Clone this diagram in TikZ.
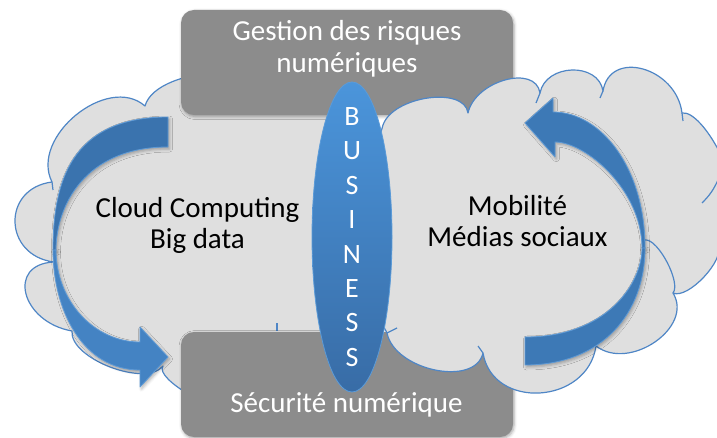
\documentclass[tikz,border=0pt]{standalone}
\usepackage{fontspec}
\setmainfont{Carlito}
\usetikzlibrary{calc,shapes.geometric,shadows.blur}
\definecolor{cloudfill}{HTML}{DFDFDF}
\definecolor{cloudline}{HTML}{4F86C6}
\definecolor{boxgray}{HTML}{8C8C8C}
\definecolor{arrowdark}{HTML}{3A73AE}
\definecolor{arrowlight}{HTML}{4483C3}
\definecolor{arrowmid}{HTML}{3D79B6}
\definecolor{arrowedge}{HTML}{5E9AD6}
\definecolor{bizTop}{HTML}{4B95DB}
\definecolor{bizBottom}{HTML}{386CA6}
\definecolor{bizEdge}{HTML}{5B9BD8}
\begin{document}
\begin{tikzpicture}[x=1pt,y=-1pt,
  % one rounded cloud lobe between two cusps, #1 = outermost point of the lobe
  bump/.style={to path={.. controls ($1.3333*(#1)+0.2533*(\tikztostart)-0.5867*(\tikztotarget)$) and ($1.3333*(#1)+0.2533*(\tikztotarget)-0.5867*(\tikztostart)$) .. (\tikztotarget)}},
  cloudshape/.style={fill=cloudfill, draw=cloudline, line width=1.2pt, line join=round},
  cloudmark/.style={draw=cloudline, line width=1.2pt},
  greybox/.style={fill=boxgray, rounded corners=13pt, minimum width=332pt, minimum height=105pt, inner sep=0pt,
    blur shadow={shadow xshift=1pt, shadow yshift=-1.5pt, shadow opacity=35, shadow blur radius=3pt}},
  boxtext/.style={text=white, align=center, font=\fontsize{29}{32}\selectfont},
  cloudtext/.style={text=black, align=center, font=\fontsize{29}{31.5}\selectfont},
  ribbon/.style={draw=arrowedge, line width=0.8pt, line join=round,
    blur shadow={shadow xshift=1.5pt, shadow yshift=-2pt, shadow opacity=30, shadow blur radius=3pt}}]

\useasboundingbox (0,0) rectangle (717,438);
\clip (0,0) rectangle (717,438);

% left cloud (lies under both grey boxes)
\path[cloudshape] (300,100) to[bump={222,72}] (145,106) to[bump={76,115}] (52,182)
  to[bump={15,222}] (54,262) to[bump={26,294}] (72,331) to[bump={110,367}] (163,366)
  to[bump={190,395}] (240,410) -- (330,410) -- (330,100) -- cycle;
\draw[cloudmark] (52,182) -- (53,190);
\draw[cloudmark] (277,323) -- (277,331);

% grey boxes
\node (risk) [greybox] at (347,62.5) {};
\node (risktxt) [boxtext] at (347,49) {Gestion des risques\\numériques};
\node (secu) [greybox] at (347,384.5) {};
\node (secutxt) [boxtext, anchor=base] at (346.5,412) {Sécurité numérique};

% right cloud (lies over both grey boxes)
\path[cloudshape] (383,125) to[bump={428,98}] (468,113) to[bump={505,80}] (540,93)
  to[bump={572,70}] (603,91) to[bump={643,69}] (682,113) to[bump={719,151}] (730,205)
  -- (740,225) -- (718,245) to[bump={704,277}] (673,293) to[bump={655,342}] (596,346)
  to[bump={540,393}] (483,353) to[bump={435,370}] (387,333) -- (370,300) -- (370,170) -- cycle;
\draw[cloudmark] (673,293) to[bump={667,262}] (645,240);
\draw[cloudmark] (682,113) -- (683,121);
\draw[cloudmark] (540,93) -- (536,103);
\draw[cloudmark] (603,91) -- (600,98);
\draw[cloudmark] (483,353) -- (478,346);
\draw[cloudmark] (387,333) -- (397,328);
\draw[cloudmark] (702,203) to[bend right=10] (718,180);

% left curved arrow: back part, then front part with the head
\path[ribbon, fill=arrowdark] (168,117) .. controls (70,117) and (53,183.5) .. (53,250)
  -- (56,250) .. controls (56,206.6) and (84.4,147) .. (168,147) -- cycle;
\path[ribbon, fill=arrowlight] (53,250) .. controls (53,310) and (82.6,370) .. (140,370)
  -- (140,387) -- (168,357) -- (140,327) -- (140,342)
  .. controls (93.8,342) and (56,300.6) .. (56,250) -- cycle;

% right curved arrow: part with the head, then the lower part
\path[ribbon, fill=arrowmid] (553,112) .. controls (600.8,112) and (645,167.8) .. (645,248)
  -- (642,248) .. controls (642,189.7) and (585.5,142) .. (555,142)
  -- (555,157) -- (525,123) -- (553,98) -- cycle;
\path[ribbon, fill=arrowmid] (645,248) .. controls (645,312.4) and (603,365) .. (525,365)
  -- (525,337) .. controls (606.9,337) and (642,283.6) .. (642,248) -- cycle;

% central ellipse
\node (bizshape) [ellipse, draw=bizEdge, line width=0.8pt, top color=bizTop, bottom color=bizBottom,
  minimum width=80pt, minimum height=310pt, inner sep=0pt] at (352,237) {};
\node (biz) [text=white, align=center, font=\fontsize{28}{34.4}\selectfont] at (bizshape.center)
  {B\\U\\S\\I\\N\\E\\S\\S};

% cloud labels
\node (cloudtxt) [cloudtext] at (197.5,225.5) {Cloud Computing\\Big data};
\node (mobtxt) [cloudtext] at (517.5,221) {Mobilité\\Médias sociaux};
\end{tikzpicture}
\end{document}
